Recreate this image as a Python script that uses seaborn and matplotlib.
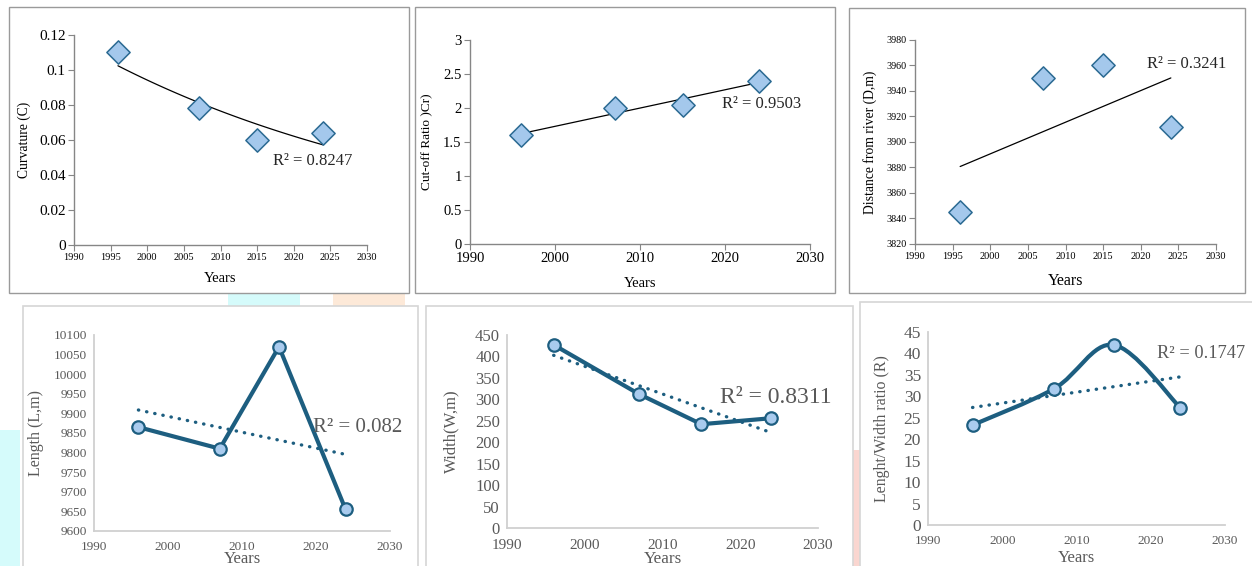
import numpy as np
import matplotlib
matplotlib.use('Agg')
import matplotlib.pyplot as plt
from matplotlib.patches import Rectangle, PathPatch
from matplotlib.path import Path
from matplotlib.ticker import FuncFormatter, MultipleLocator
import seaborn as sns

# data
years = [1996, 2007, 2015, 2024]
curvature = [0.110, 0.078, 0.060, 0.064]
cutoff_ratio = [1.60, 2.00, 2.05, 2.40]
distance = [3845, 3950, 3960, 3912]
length = [9865, 9810, 10070, 9655]
width = [427, 312, 242, 256]
lw_ratio = [23.3, 31.8, 42.0, 27.3]

r2_labels = ['R² = 0.8247', 'R² = 0.9503', 'R² = 0.3241',
             'R² = 0.082', 'R² = 0.8311', 'R² = 0.1747']
y_labels = ['Curvature (C)', 'Cut-off Ratio )Cr)', 'Distance from river (D,m)',
            'Length (L,m)', 'Width(W,m)', 'Lenght/Width ratio (R)']

sns.set_theme(style='white')
plt.rcParams['font.family'] = ['Liberation Serif', 'DejaVu Serif']

DIAM_FILL = '#a4c8ec'
DIAM_EDGE = '#2b6a92'
LINE_COL = '#1d5e80'
CIRC_FILL = '#a9cbee'
GREY_TXT = '#595959'

fig = plt.figure(figsize=(12.52, 5.66), dpi=100)
W, H = 1252, 566


def px_rect(x0, y0, x1, y1, color, lw=1.0, fill=False, z=0):
    r = Rectangle((x0 / W, 1 - y1 / H), (x1 - x0) / W, (y1 - y0) / H,
                  transform=fig.transFigure, fill=fill,
                  facecolor=color if fill else 'none',
                  edgecolor='none' if fill else color, lw=lw, zorder=z)
    fig.patches.append(r)


# faint background patches from the page behind
px_rect(0, 430, 20, 566, '#d5fbfb', fill=True, z=-5)
px_rect(228, 293, 300, 306, '#d5fbfb', fill=True, z=-5)
px_rect(333, 293, 405, 306, '#fde9d8', fill=True, z=-5)
px_rect(853, 450, 860, 566, '#fad6d0', fill=True, z=-5)

# panel borders
px_rect(9, 7, 409, 293, '#9a9a9a', lw=1.0)
px_rect(415, 7, 835, 293, '#9a9a9a', lw=1.0)
px_rect(849, 8, 1245, 293, '#9a9a9a', lw=1.0)
px_rect(23, 306, 418, 570, '#d6d6d6', lw=1.2)
px_rect(426, 306, 853, 570, '#d6d6d6', lw=1.2)
px_rect(860, 302, 1256, 570, '#d6d6d6', lw=1.2)


def add_ax(x0, y0, x1, y1):
    return fig.add_axes([x0 / W, 1 - y1 / H, (x1 - x0) / W, (y1 - y0) / H])


gfmt = FuncFormatter(lambda v, p: '%g' % round(v, 6))


def style_top(ax, ylim, ystep, xstep, ytick_fs, xtick_fs):
    ax.set_xlim(1990, 2030)
    ax.set_ylim(*ylim)
    ax.xaxis.set_major_locator(MultipleLocator(xstep))
    ax.yaxis.set_major_locator(MultipleLocator(ystep))
    ax.yaxis.set_major_formatter(gfmt)
    for s in ['top', 'right']:
        ax.spines[s].set_visible(False)
    for s in ['left', 'bottom']:
        ax.spines[s].set_color('#868686')
        ax.spines[s].set_linewidth(1.0)
    ax.tick_params(axis='both', direction='out', length=4, width=0.8,
                   color='#868686', left=True, bottom=True, pad=2)
    ax.tick_params(axis='y', labelsize=ytick_fs, labelcolor='black')
    ax.tick_params(axis='x', labelsize=xtick_fs, labelcolor='black')


def style_bottom(ax, ylim, ystep, ytick_fs, xtick_fs, xpad):
    ax.set_xlim(1990, 2030)
    ax.set_ylim(*ylim)
    ax.xaxis.set_major_locator(MultipleLocator(10))
    ax.yaxis.set_major_locator(MultipleLocator(ystep))
    ax.yaxis.set_major_formatter(gfmt)
    for s in ['top', 'right']:
        ax.spines[s].set_visible(False)
    for s in ['left', 'bottom']:
        ax.spines[s].set_color('#d0d0d0')
        ax.spines[s].set_linewidth(1.3)
    ax.tick_params(axis='both', length=0, labelcolor=GREY_TXT)
    ax.tick_params(axis='y', labelsize=ytick_fs, pad=5)
    ax.tick_params(axis='x', labelsize=xtick_fs, pad=xpad)


def labels(ax, ylab, yfs, ylx, xfs, xly, color='black'):
    ax.set_ylabel(ylab, fontsize=yfs, color=color)
    ax.yaxis.set_label_coords(ylx, 0.5)
    ax.set_xlabel('Years', fontsize=xfs, color=color)
    ax.xaxis.set_label_coords(0.5, xly)


# ---------- top row: diamonds with trend lines ----------
ax1 = add_ax(74, 35, 367, 245)
coef = np.polyfit(years, np.log(curvature), 1)
xs = np.linspace(years[0], years[-1], 60)
sns.lineplot(x=xs, y=np.exp(np.polyval(coef, xs)), ax=ax1, color='black', lw=0.9)
sns.scatterplot(x=years, y=curvature, ax=ax1, marker='D', s=140, color=DIAM_FILL,
                edgecolor=DIAM_EDGE, linewidth=1.1, zorder=3)
style_top(ax1, (0, 0.12), 0.02, 5, 11, 7.5)
labels(ax1, y_labels[0], 9.8, -0.147, 10.5, -0.129)
ax1.text(2017.2, 0.048, r2_labels[0], fontsize=12, va='center', ha='left')

ax2 = add_ax(470, 40, 810, 244)
sns.regplot(x=years, y=cutoff_ratio, ax=ax2, scatter=False, ci=None, truncate=True,
            color='black', line_kws=dict(lw=0.9))
sns.scatterplot(x=years, y=cutoff_ratio, ax=ax2, marker='D', s=140, color=DIAM_FILL,
                edgecolor=DIAM_EDGE, linewidth=1.1, zorder=3)
style_top(ax2, (0, 3), 0.5, 10, 10.5, 10.5)
labels(ax2, y_labels[1], 9.5, -0.109, 10.5, -0.162)
ax2.text(2019.6, 2.06, r2_labels[1], fontsize=12, va='center', ha='left')

ax3 = add_ax(915, 40, 1216, 244)
sns.regplot(x=years, y=distance, ax=ax3, scatter=False, ci=None, truncate=True,
            color='black', line_kws=dict(lw=0.9))
sns.scatterplot(x=years, y=distance, ax=ax3, marker='D', s=140, color=DIAM_FILL,
                edgecolor=DIAM_EDGE, linewidth=1.1, zorder=3)
style_top(ax3, (3820, 3980), 20, 5, 7.3, 7.5)
labels(ax3, y_labels[2], 9.8, -0.126, 11.5, -0.142)
ax3.text(2020.8, 3961, r2_labels[2], fontsize=12, va='center', ha='left')

# ---------- bottom row: lines with circles and dotted trends ----------
dot_kws = dict(lw=2.4, linestyle=(0, (0.1, 2.4)), dash_capstyle='round')


def bottom_panel(ax, vals, smooth=False):
    sns.regplot(x=years, y=vals, ax=ax, scatter=False, ci=None, truncate=True,
                color=LINE_COL, line_kws=dot_kws)
    if smooth:
        # smoothed line as bezier segments through the data points
        pts = np.column_stack([years, vals]).astype(float)
        n = len(pts)
        verts = [pts[0]]
        codes = [Path.MOVETO]
        for i in range(n - 1):
            p0 = pts[max(i - 1, 0)]
            p1 = pts[i]
            p2 = pts[i + 1]
            p3 = pts[min(i + 2, n - 1)]
            verts += [p1 + (p2 - p0) / 6, p2 - (p3 - p1) / 6, p2]
            codes += [Path.CURVE4] * 3
        ax.add_patch(PathPatch(Path(verts, codes), fill=False, ec=LINE_COL, lw=3.0,
                               capstyle='round', joinstyle='round', zorder=2))
    else:
        sns.lineplot(x=years, y=vals, ax=ax, color=LINE_COL, lw=3.0, zorder=2)
    sns.scatterplot(x=years, y=vals, ax=ax, marker='o', s=80, color=CIRC_FILL,
                    edgecolor=LINE_COL, linewidth=1.6, zorder=3)


ax4 = add_ax(94, 335, 390, 531)
bottom_panel(ax4, length)
style_bottom(ax4, (9600, 10100), 50, 9.5, 9.5, 7.5)
labels(ax4, y_labels[3], 11.5, -0.169, 12, -0.10, GREY_TXT)
ax4.text(2019.6, 9865, r2_labels[3], fontsize=15, va='center', ha='left', color=GREY_TXT)

ax5 = add_ax(507, 335, 818, 528)
bottom_panel(ax5, width)
style_bottom(ax5, (0, 450), 50, 12, 11, 8)
labels(ax5, y_labels[4], 12, -0.154, 12.3, -0.12, GREY_TXT)
ax5.text(2017.4, 305, r2_labels[4], fontsize=17, va='center', ha='left', color=GREY_TXT)

ax6 = add_ax(928, 332, 1225, 525)
bottom_panel(ax6, lw_ratio, smooth=True)
style_bottom(ax6, (0, 45), 5, 12.5, 9.5, 7.5)
labels(ax6, y_labels[5], 11.4, -0.128, 12, -0.13, GREY_TXT)
ax6.text(2020.8, 40.1, r2_labels[5], fontsize=13.2, va='center', ha='left', color=GREY_TXT)

fig.savefig('out.png', dpi=100)
